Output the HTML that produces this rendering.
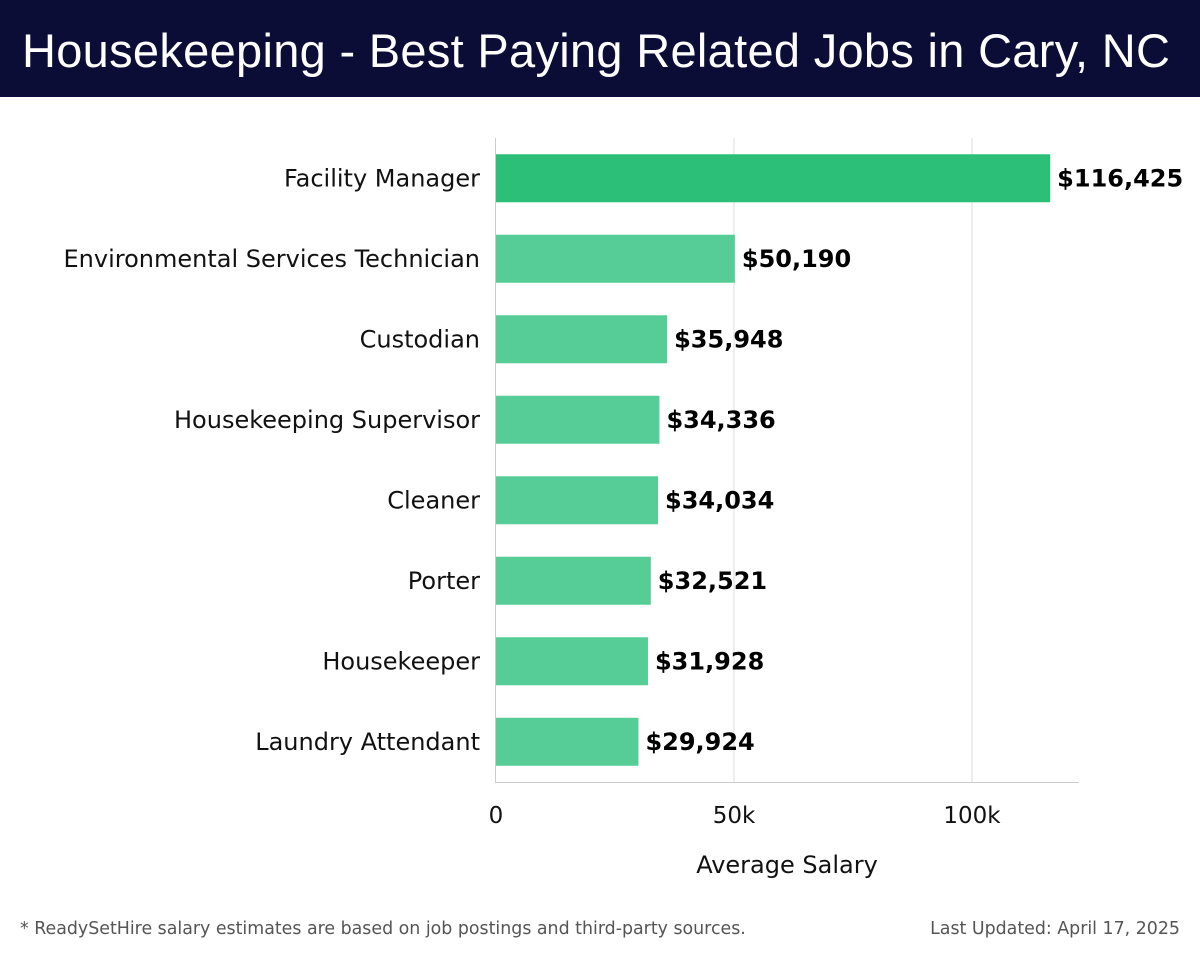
<!DOCTYPE html>
<html><head><meta charset="utf-8"><style>
body{margin:0;width:1200px;height:958px;background:#fff;font-family:"DejaVu Sans","Liberation Sans",sans-serif;overflow:hidden;position:relative}
#hdr{position:absolute;left:0;top:0;width:1200px;height:97px;background:#0b0d36}
#hdr h1{margin:0;position:absolute;left:22px;top:23px;font-weight:normal;font-size:47px;color:#fff;font-family:"Liberation Sans",sans-serif;letter-spacing:0.3px;white-space:nowrap}
.foot{position:absolute;top:919px;font-size:17.4px;color:#555;font-family:"DejaVu Sans",sans-serif}
</style></head><body>
<div id="hdr"><h1>Housekeeping - Best Paying Related Jobs in Cary, NC</h1></div>
<svg id="chart" width="1200" height="958" style="position:absolute;left:0;top:0"></svg>
<div class="foot" style="left:20px">* ReadySetHire salary estimates are based on job postings and third-party sources.</div>
<div class="foot" style="right:20px">Last Updated: April 17, 2025</div>
<script>
const categories=["Facility Manager","Environmental Services Technician","Custodian","Housekeeping Supervisor","Cleaner","Porter","Housekeeper","Laundry Attendant"];
const salaries=[116425,50190,35948,34336,34034,32521,31928,29924];
const tickValues=[0,50000,100000];
const tickLabels=["0","50k","100k"];
const svg=document.getElementById('chart');
const NS="http://www.w3.org/2000/svg";
const x0=496,pxPer=238/50000,top0=138,band=80.5,bh=48;
const xs=v=>x0+v*pxPer;
const yc=i=>top0+band*(i+0.5);
function mk(t,a){const e=document.createElementNS(NS,t);for(const k in a)e.setAttribute(k,a[k]);svg.appendChild(e);return e;}
tickValues.forEach((v,i)=>{
 if(v>0){const g=mk('line',{x1:xs(v),x2:xs(v),y1:top0,y2:782,stroke:'#ddd','stroke-width':1});
 
 }
 const t=mk('text',{x:xs(v),y:823,'text-anchor':'middle','font-size':23,fill:'#111'});
 t.textContent=tickLabels[i];
 
 
});
const ax=mk('line',{x1:495.5,x2:495.5,y1:top0,y2:782,stroke:'#ccc'});


const bx=mk('line',{x1:495,x2:1079,y1:782.5,y2:782.5,stroke:'#ccc'});


categories.forEach((c,i)=>{
 const y=yc(i);
 const r=mk('rect',{x:x0,y:y-bh/2,width:xs(salaries[i])-x0,height:bh,fill:i==0?'#2bbf78':'#56cd96'});
 
 
 const l=mk('text',{x:480,y:y+8,'text-anchor':'end','font-size':24,fill:'#111'});
 l.textContent=c;
 
 
 const v=mk('text',{x:xs(salaries[i])+7,y:y+8,'font-size':24,'font-weight':'bold',fill:'#000'});
 v.textContent='$'+salaries[i].toLocaleString('en-US');
 
 
});
const at=mk('text',{x:787,y:873,'text-anchor':'middle','font-size':24,fill:'#111'});
at.textContent='Average Salary';


</script>
</body></html>
